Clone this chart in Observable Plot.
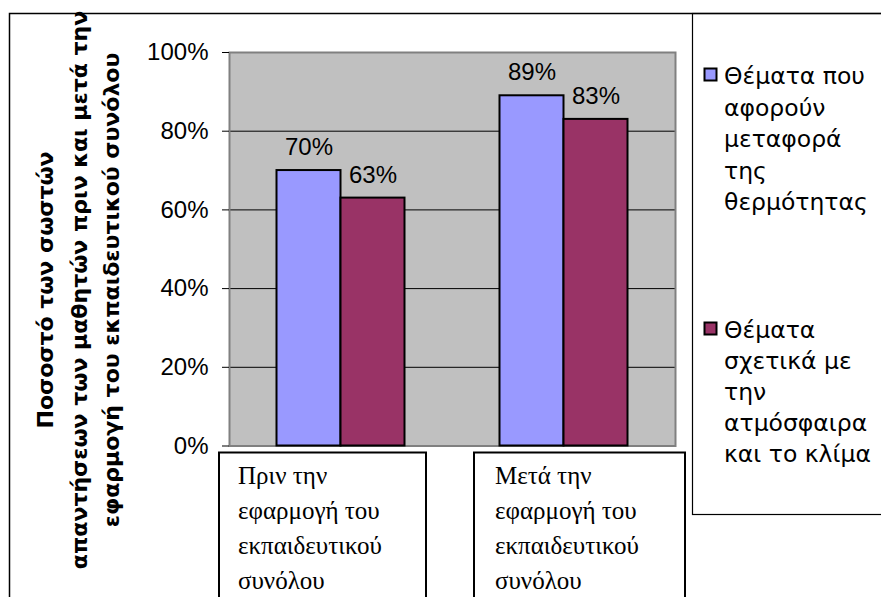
<!DOCTYPE html>
<html>
<head>
<meta charset="utf-8">
<script src="https://cdn.jsdelivr.net/npm/d3@7"></script>
<script src="https://cdn.jsdelivr.net/npm/@observablehq/plot@0.6"></script>
<style>
  html, body { margin: 0; padding: 0; background: #fff; overflow: hidden; }
  #chart svg { display: block; }
</style>
</head>
<body>
<div id="chart"></div>
<script>
// ---- data ----
const categories = [
  "Πριν την εφαρμογή του εκπαιδευτικού συνόλου",
  "Μετά την εφαρμογή του εκπαιδευτικού συνόλου"
];
const categoryLabelLines = [
  ["Πριν την", "εφαρμογή του", "εκπαιδευτικού", "συνόλου"],
  ["Μετά την", "εφαρμογή του", "εκπαιδευτικού", "συνόλου"]
];
const seriesNames = [
  "Θέματα που αφορούν μεταφορά της θερμότητας",
  "Θέματα σχετικά με την ατμόσφαιρα και το κλίμα"
];
const seriesLegendLines = [
  ["Θέματα που", "αφορούν", "μεταφορά", "της", "θερμότητας"],
  ["Θέματα", "σχετικά με", "την", "ατμόσφαιρα", "και το κλίμα"]
];
const heatValues = [0.70, 0.89];
const climateValues = [0.63, 0.83];
const yTicks = [0, 0.2, 0.4, 0.6, 0.8, 1.0];
const yTitleLines = [
  "Ποσοστό των σωστών",
  "απαντήσεων των μαθητών πριν και μετά την",
  "εφαρμογή του εκπαιδευτικού συνόλου"
];
const seriesColors = ["#9999FF", "#993366"];

// ---- table built from the arrays ----
const rows = [];
categories.forEach((c, i) => {
  rows.push({category: c, series: seriesNames[0], value: heatValues[i]});
  rows.push({category: c, series: seriesNames[1], value: climateValues[i]});
});
const s0 = rows.filter(d => d.series === seriesNames[0]);
const s1 = rows.filter(d => d.series === seriesNames[1]);

// ---- layout ----
const W = 881, H = 597;
const mL = 229, mR = 206, mT = 52, mB = 151.5;
const band = (W - mL - mR) / categories.length;
const barW = 64;
const pct = d3.format(".0%");
const sans = "'Liberation Sans', Arial, sans-serif";
const greekSans = "'DejaVu Sans', Verdana, sans-serif";
const serif = "'Liberation Serif', 'Times New Roman', serif";

function decor(index, scales) {
  const g = d3.create("svg:g");
  // outer chart border
  g.append("rect").attr("x", 9.5).attr("y", 13.5).attr("width", 1000).attr("height", 1000)
    .attr("fill", "none").attr("stroke", "#000").attr("stroke-width", 1.5);
  // legend box
  g.append("rect").attr("x", 692.5).attr("y", 13.5).attr("width", 400).attr("height", 501)
    .attr("fill", "none").attr("stroke", "#000").attr("stroke-width", 1.2);
  // category label boxes, positioned off the x band scale
  const boxOff = [{dx: -10, w: 207, tx: 19}, {dx: 22, w: 211, tx: 21}];
  categories.forEach((c, i) => {
    const x0 = scales.x(c) + boxOff[i].dx;
    g.append("rect").attr("x", x0).attr("y", 452.5).attr("width", boxOff[i].w).attr("height", 300)
      .attr("fill", "#fff").attr("stroke", "#000").attr("stroke-width", 2);
    const t = g.append("text").attr("font-family", serif).attr("font-size", 25)
      .attr("text-anchor", "start").attr("fill", "#000");
    categoryLabelLines[i].forEach((line, j) => {
      t.append("tspan").attr("x", x0 + boxOff[i].tx).attr("y", 484 + j * 35).text(line);
    });
  });
  // legend
  const legendTop = [84, 338];
  const legendStep = [31.6, 31];
  seriesNames.forEach((s, i) => {
    g.append("rect").attr("x", 704.5).attr("y", legendTop[i] - 15.5).attr("width", 12).attr("height", 12)
      .attr("fill", seriesColors[i]).attr("stroke", "#000").attr("stroke-width", 2);
    const t = g.append("text").attr("font-family", greekSans).attr("font-size", 23.5)
      .attr("text-anchor", "start").attr("fill", "#000");
    seriesLegendLines[i].forEach((line, j) => {
      t.append("tspan").attr("x", 724).attr("y", legendTop[i] + j * legendStep[i]).text(line);
    });
  });
  // y-axis title (rotated, bold, three lines)
  const base = [53, 87, 119];
  yTitleLines.forEach((line, j) => {
    g.append("text").attr("transform", `translate(${base[j]},290) rotate(-90)`)
      .attr("text-anchor", "middle").attr("font-family", greekSans).attr("font-weight", "bold")
      .attr("font-size", 22).attr("fill", "#000").text(line);
  });
  return g.node();
}

const chart = Plot.plot({
  width: W,
  height: H,
  marginLeft: mL,
  marginRight: mR,
  marginTop: mT,
  marginBottom: mB,
  style: {fontFamily: sans, fontSize: "24px", background: "#fff", color: "#000"},
  x: {domain: categories, padding: 0, axis: null},
  y: {domain: [0, 1], axis: null},
  marks: [
    decor,
    Plot.frame({fill: "#C0C0C0"}),
    Plot.ruleY(yTicks.filter(t => t > 0 && t < 1), {stroke: "#000", strokeWidth: 1}),
    Plot.frame({stroke: "#808080", strokeWidth: 2}),
    Plot.axisY({ticks: yTicks, tickFormat: pct, tickSize: 7, tickPadding: 14, fontSize: 24,
      label: null, stroke: "#000", strokeOpacity: 1}),
    Plot.barY(s0, {x: "category", y: "value", fill: seriesColors[0], stroke: "#000", strokeWidth: 2,
      insetLeft: band / 2 - barW, insetRight: band / 2}),
    Plot.barY(s1, {x: "category", y: "value", fill: seriesColors[1], stroke: "#000", strokeWidth: 2,
      insetLeft: band / 2, insetRight: band / 2 - barW}),
    Plot.text(s0, {x: "category", y: "value", text: d => pct(d.value), dx: -barW / 2, dy: -23, fontSize: 24, fill: "#000"}),
    Plot.text(s1, {x: "category", y: "value", text: d => pct(d.value), dx: barW / 2, dy: -23, fontSize: 24, fill: "#000"})
  ]
});
document.getElementById("chart").append(chart);
</script>
</body>
</html>
